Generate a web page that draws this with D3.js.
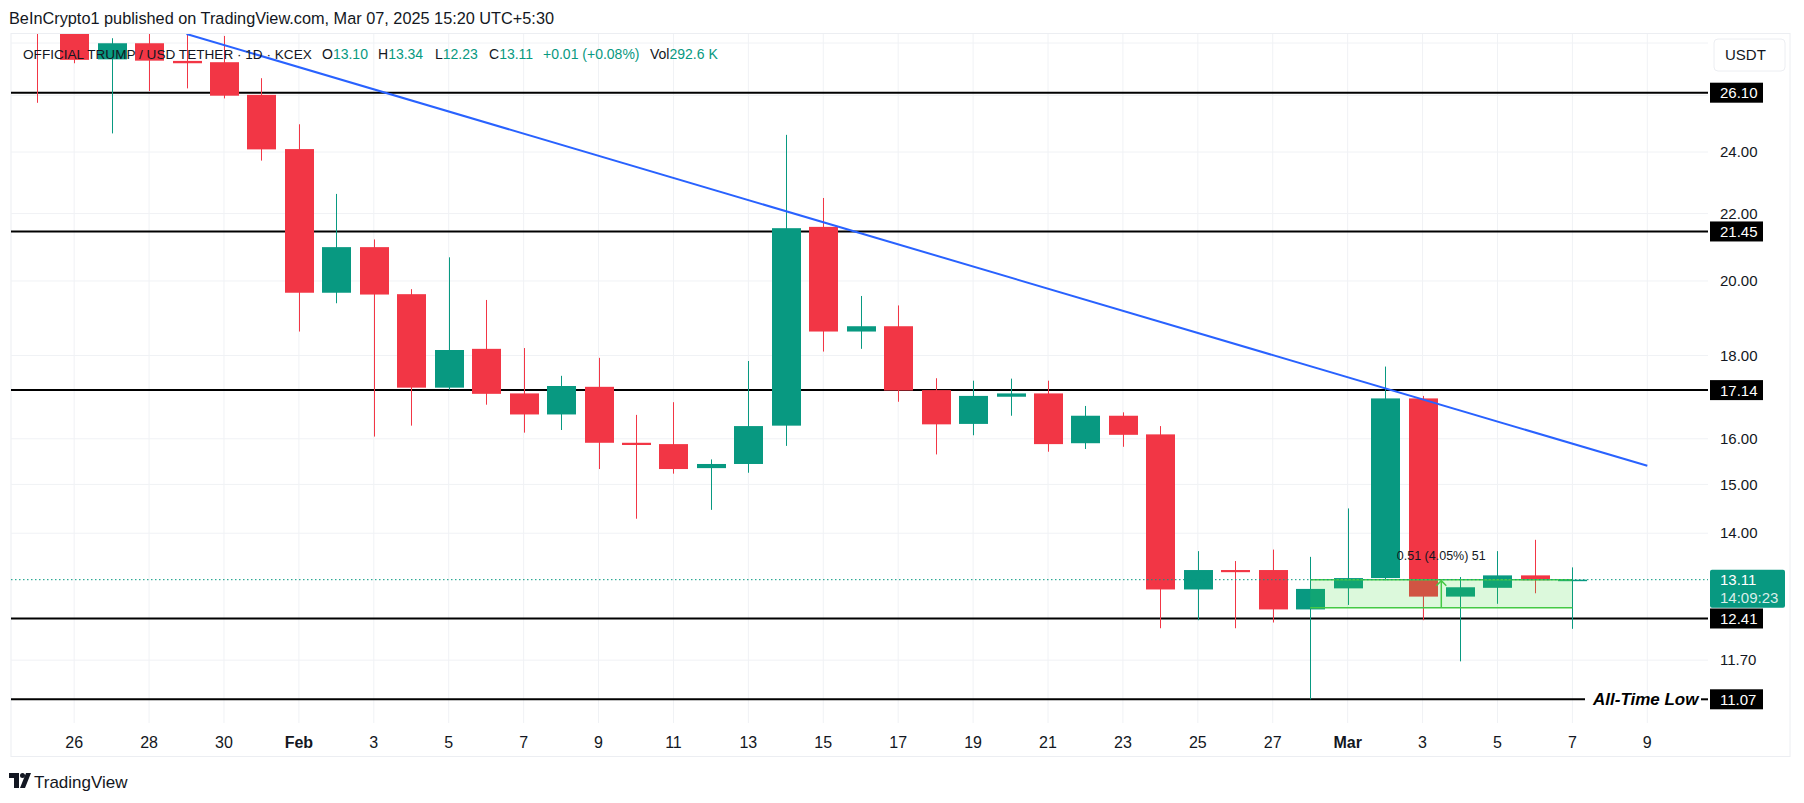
<!DOCTYPE html>
<html>
<head>
<meta charset="utf-8">
<script src="https://cdn.jsdelivr.net/npm/d3@7"></script>
<style>
  body { margin: 0; background: #fff; }
  svg { display: block; }
  .plain { font-family: "Liberation Sans", Arial, sans-serif; }
</style>
</head>
<body>
<div id="chart"></div>
<script>
var svgWidth = 1804;
var svgHeight = 803;

// daily candles, OFFICIAL TRUMP / USDT, KCEX
var dates  = ["2025-01-25","2025-01-26","2025-01-27","2025-01-28","2025-01-29","2025-01-30","2025-01-31",
              "2025-02-01","2025-02-02","2025-02-03","2025-02-04","2025-02-05","2025-02-06","2025-02-07",
              "2025-02-08","2025-02-09","2025-02-10","2025-02-11","2025-02-12","2025-02-13","2025-02-14",
              "2025-02-15","2025-02-16","2025-02-17","2025-02-18","2025-02-19","2025-02-20","2025-02-21",
              "2025-02-22","2025-02-23","2025-02-24","2025-02-25","2025-02-26","2025-02-27","2025-02-28",
              "2025-03-01","2025-03-02","2025-03-03","2025-03-04","2025-03-05","2025-03-06","2025-03-07"];
var opens  = [31.00,28.90,27.36,27.99,27.30,27.25,26.02, 24.10,19.67,20.98,19.63,17.20,18.17,17.06,
              16.56,17.22,15.91,15.88,15.35,15.44,16.30, 21.59,18.62,18.76,17.14,16.34,16.98,17.06,
              15.90,16.53,16.10,12.93,13.29,13.29,12.57, 12.95,13.14,16.94,12.80,12.96,13.19,13.10];
var highs  = [32.50,29.50,28.19,28.80,28.50,28.28,26.64, 24.96,22.62,21.21,19.77,20.68,19.47,18.19,
              17.49,17.94,16.55,16.85,15.54,17.86,24.59, 22.49,19.58,19.32,17.43,17.37,17.42,17.37,
              16.76,16.61,16.29,13.65,13.46,13.68,13.54, 14.50,17.72,17.00,13.16,13.65,13.87,13.34];
var lows   = [25.73,27.21,24.64,26.16,26.26,25.89,23.71, 18.62,19.38,16.05,16.30,17.15,16.79,16.14,
              16.20,15.33,14.29,15.23,14.47,15.25,15.84, 18.10,18.17,16.86,15.65,16.08,16.53,15.71,
              15.77,15.82,12.24,12.38,12.24,12.34,11.07, 12.65,13.10,12.38,11.68,12.67,12.86,12.23];
var closes = [29.00,27.34,27.99,27.31,27.21,25.99,24.09, 19.67,20.98,19.62,17.20,18.14,17.05,16.56,
              17.24,15.91,15.86,15.33,15.44,16.29,21.55, 18.62,18.76,17.13,16.33,17.00,17.06,15.88,
              16.53,16.09,12.93,13.29,13.25,12.57,12.94, 13.14,16.94,12.80,12.97,13.19,13.10,13.11];

var levels = [26.10, 21.45, 17.14, 12.41, 11.07];
var levelNote = "All-Time Low";
var priceTicks = [24, 22, 20, 18, 16, 15, 14, 11.70];
var gridPrices = [28, 26, 24, 22, 20, 18, 16, 15, 14, 11.70];

var tickDates  = ["2025-01-26","2025-01-28","2025-01-30","2025-02-01","2025-02-03","2025-02-05","2025-02-07",
                  "2025-02-09","2025-02-11","2025-02-13","2025-02-15","2025-02-17","2025-02-19","2025-02-21",
                  "2025-02-23","2025-02-25","2025-02-27","2025-03-01","2025-03-03","2025-03-05","2025-03-07","2025-03-09"];
var tickLabels = ["26","28","30","Feb","3","5","7","9","11","13","15","17","19","21","23","25","27","Mar","3","5","7","9"];

var trendDates  = ["2025-01-29", "2025-03-09"];
var trendPrices = [28.36, 15.40];

var rangeDates  = ["2025-02-28", "2025-03-07"];
var rangePrices = [12.60, 13.11];
var rangeText = "0.51 (4.05%) 51";

var lastPrice = 13.11;
var countdown = "14:09:23";

var titleText = "BeInCrypto1 published on TradingView.com, Mar 07, 2025 15:20 UTC+5:30";
var symbolText = "OFFICIAL TRUMP / USD TETHER \u00b7 1D \u00b7 KCEX";
var legendKeys   = ["O", "H", "L", "C", "", "Vol"];
var legendValues = ["13.10", "13.34", "12.23", "13.11", "+0.01 (+0.08%)", "292.6 K"];

var up = "#089981", down = "#F23645", ink = "#131722";

var pane = { left: 11, right: 1708, top: 34, bottom: 723 };
var parse = d3.utcParse("%Y-%m-%d");

var candles = dates.map(function(d, i) {
  return { date: parse(d), o: opens[i], h: highs[i], l: lows[i], c: closes[i] };
});

var x = d3.scaleUtc()
  .domain([parse("2025-01-25"), parse("2025-03-09")])
  .range([36.7, 1647.3]);
var y = d3.scaleLog()
  .domain([26.10, 11.07])
  .range([92.7, 699.3]);

var svg = d3.select("#chart").append("svg")
  .attr("width", svgWidth)
  .attr("height", svgHeight);

svg.append("defs").append("clipPath").attr("id", "pane")
  .append("rect")
  .attr("x", pane.left).attr("y", pane.top)
  .attr("width", pane.right - pane.left).attr("height", pane.bottom - pane.top);

// frame
svg.append("rect")
  .attr("x", pane.left).attr("y", pane.top - 0.5)
  .attr("width", 1790 - pane.left).attr("height", 757 - pane.top)
  .attr("fill", "none").attr("stroke", "#eceef2");

var plot = svg.append("g").attr("clip-path", "url(#pane)");

// grid
plot.selectAll(".vgrid").data(tickDates).enter().append("line")
  .attr("x1", d => x(parse(d))).attr("x2", d => x(parse(d)))
  .attr("y1", pane.top).attr("y2", pane.bottom)
  .attr("stroke", "#f0f2f5");
plot.selectAll(".hgrid").data(gridPrices).enter().append("line")
  .attr("x1", pane.left).attr("x2", pane.right)
  .attr("y1", d => y(d)).attr("y2", d => y(d))
  .attr("stroke", "#f0f2f5");

// horizontal levels
var lastLevel = levels[levels.length - 1];
plot.selectAll(".level").data(levels).enter().append("line")
  .attr("x1", pane.left)
  .attr("x2", d => d === lastLevel ? 1585 : pane.right)
  .attr("y1", d => y(d)).attr("y2", d => y(d))
  .attr("stroke", "#000").attr("stroke-width", 2);
plot.append("line")
  .attr("x1", 1701).attr("x2", pane.right)
  .attr("y1", y(lastLevel)).attr("y2", y(lastLevel))
  .attr("stroke", "#000").attr("stroke-width", 2);

// candles
var bodyW = 29;
var cg = plot.selectAll(".candle").data(candles).enter().append("g");
cg.append("line")
  .attr("x1", d => Math.round(x(d.date)) + 0.5).attr("x2", d => Math.round(x(d.date)) + 0.5)
  .attr("y1", d => y(d.h)).attr("y2", d => y(d.l))
  .attr("stroke", d => d.c >= d.o ? up : down).attr("stroke-width", 1);
cg.append("rect")
  .attr("x", d => Math.round(x(d.date)) + 0.5 - bodyW / 2)
  .attr("width", bodyW)
  .attr("y", d => y(Math.max(d.o, d.c)))
  .attr("height", d => Math.max(1.5, y(Math.min(d.o, d.c)) - y(Math.max(d.o, d.c))))
  .attr("fill", d => d.c >= d.o ? up : down);

// trend line
plot.append("line")
  .attr("x1", x(parse(trendDates[0]))).attr("y1", y(trendPrices[0]))
  .attr("x2", x(parse(trendDates[1]))).attr("y2", y(trendPrices[1]))
  .attr("stroke", "#2962FF").attr("stroke-width", 2);

// price range tool
var rx0 = x(parse(rangeDates[0])), rx1 = x(parse(rangeDates[1]));
var ry0 = y(rangePrices[1]), ry1 = y(rangePrices[0]);
var rmid = (rx0 + rx1) / 2;
plot.append("rect")
  .attr("x", rx0).attr("y", ry0).attr("width", rx1 - rx0).attr("height", ry1 - ry0)
  .attr("fill", "rgba(60,220,60,0.18)");
plot.selectAll(".rangeEdge").data([ry0, ry1]).enter().append("line")
  .attr("x1", rx0).attr("x2", rx1).attr("y1", d => d).attr("y2", d => d)
  .attr("stroke", "#45c945").attr("stroke-width", 1.5);
plot.append("line")
  .attr("x1", rmid).attr("x2", rmid).attr("y1", ry1).attr("y2", ry0 + 1)
  .attr("stroke", "#45c945").attr("stroke-width", 1.5);
plot.append("path")
  .attr("d", `M${rmid - 5},${ry0 + 6} L${rmid},${ry0 + 1} L${rmid + 5},${ry0 + 6}`)
  .attr("fill", "none").attr("stroke", "#45c945").attr("stroke-width", 1.5);
svg.append("text")
  .attr("class", "plain")
  .attr("x", rmid).attr("y", ry0 - 20)
  .attr("text-anchor", "middle").attr("font-size", 12.5).attr("fill", ink)
  .text(rangeText);

// last price dotted line
plot.append("line")
  .attr("x1", pane.left).attr("x2", pane.right)
  .attr("y1", y(lastPrice)).attr("y2", y(lastPrice))
  .attr("stroke", up).attr("stroke-width", 1).attr("stroke-dasharray", "1.5,2.5");

// all-time-low note
svg.append("text")
  .attr("class", "plain")
  .attr("x", 1593).attr("y", y(lastLevel) + 6)
  .attr("font-size", 17).attr("font-weight", "bold").attr("font-style", "italic")
  .attr("fill", "#000")
  .text(levelNote);

// price scale labels
svg.selectAll(".ptick").data(priceTicks).enter().append("text")
  .attr("class", "plain")
  .attr("x", 1720).attr("y", d => y(d)).attr("dy", "0.35em")
  .attr("font-size", 15).attr("fill", ink)
  .text(d => d.toFixed(2));

var lv = svg.selectAll(".lvl").data(levels).enter().append("g");
lv.append("rect")
  .attr("x", 1710).attr("width", 53)
  .attr("y", d => y(d) - 10).attr("height", 20)
  .attr("fill", "#000");
lv.append("text")
  .attr("class", "plain")
  .attr("x", 1720).attr("y", d => y(d)).attr("dy", "0.36em")
  .attr("font-size", 15).attr("fill", "#fff")
  .text(d => d.toFixed(2));

// last price label
var lp = y(lastPrice);
svg.append("rect")
  .attr("x", 1710).attr("y", lp - 10).attr("width", 75).attr("height", 38)
  .attr("rx", 2).attr("fill", up);
svg.append("text")
  .attr("class", "plain")
  .attr("x", 1720).attr("y", lp).attr("dy", "0.36em")
  .attr("font-size", 15).attr("fill", "#fff")
  .text(lastPrice.toFixed(2));
svg.append("text")
  .attr("class", "plain")
  .attr("x", 1720).attr("y", lp + 18).attr("dy", "0.36em")
  .attr("font-size", 15).attr("fill", "rgba(255,255,255,0.85)")
  .text(countdown);

// currency button
svg.append("rect")
  .attr("x", 1714).attr("y", 39).attr("width", 71).attr("height", 32)
  .attr("rx", 4).attr("fill", "#fff").attr("stroke", "#eceef2");
svg.append("text")
  .attr("class", "plain")
  .attr("x", 1725).attr("y", 55).attr("dy", "0.35em")
  .attr("font-size", 15).attr("fill", ink)
  .text("USDT");

// time axis
svg.selectAll(".xtick").data(tickDates).enter().append("text")
  .attr("class", "plain")
  .attr("x", d => x(parse(d))).attr("y", 748)
  .attr("text-anchor", "middle").attr("font-size", 16)
  .attr("font-weight", (d, i) => isNaN(+tickLabels[i]) ? "bold" : "normal")
  .attr("fill", ink)
  .text((d, i) => tickLabels[i]);

// header
svg.append("text")
  .attr("class", "plain")
  .attr("x", 9).attr("y", 24)
  .attr("font-size", 16.3).attr("fill", ink)
  .text(titleText);

svg.append("text")
  .attr("class", "plain")
  .attr("x", 23).attr("y", 58.5)
  .attr("font-size", 13.6).attr("fill", ink)
  .text(symbolText);

var legendX = [322, 378, 435, 489, 543, 650];
legendKeys.forEach(function(k, i) {
  var t = svg.append("text")
    .attr("class", "plain")
    .attr("x", legendX[i]).attr("y", 58.5)
    .attr("font-size", 14);
  t.append("tspan").attr("fill", ink).text(k);
  t.append("tspan").attr("fill", up).text(legendValues[i]);
});

// TradingView footer
var logo = svg.append("g").attr("transform", "translate(9,773)");
logo.append("path").attr("d", "M0,0 H10 V15 H5 V5 H0 Z").attr("fill", ink);
logo.append("circle").attr("cx", 13.5).attr("cy", 2.5).attr("r", 2.5).attr("fill", ink);
logo.append("path").attr("d", "M17,0 H22 L16,15 H11 Z").attr("fill", ink);
svg.append("text")
  .attr("class", "plain")
  .attr("x", 34).attr("y", 788)
  .attr("font-size", 17).attr("fill", ink)
  .text("TradingView");
</script>
</body>
</html>
